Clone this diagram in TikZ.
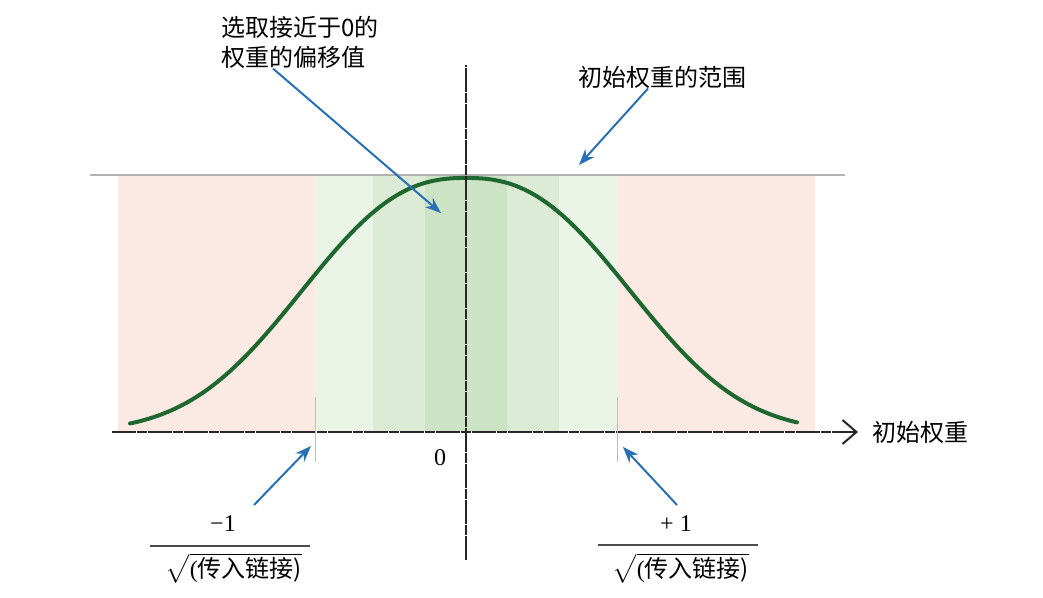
\documentclass[tikz,border=0pt]{standalone}
\usepackage{amsmath}
\usepackage{fontspec}
\setmainfont{Liberation Serif}
\newfontfamily\cjk{Noto Sans CJK SC}
\usetikzlibrary{calc,positioning,arrows.meta}
\definecolor{rangepink}{RGB}{250,234,227}
\definecolor{bandlight}{RGB}{234,244,231}
\definecolor{bandmid}{RGB}{219,235,213}
\definecolor{banddark}{RGB}{205,227,198}
\definecolor{curvegreen}{RGB}{30,104,48}
\definecolor{pointblue}{RGB}{40,112,182}
\tikzset{
  pointer/.style={draw=pointblue, line width=1pt, -{Stealth[length=8pt,width=6pt]}},
  roughaxis/.style={draw=black!85, line width=0.8pt, dash pattern=on 12pt off 0.5pt on 5pt off 0.5pt},
  tickmark/.style={draw=black!25, line width=0.5pt},
  fracbar/.style={draw=black!70, line width=0.8pt},
  notetext/.style={font=\cjk\fontsize{12}{15}\selectfont, align=left, inner sep=0pt},
  numtext/.style={font=\fontsize{12}{15}\selectfont, inner sep=0pt}
}

\begin{document}
\begin{tikzpicture}[x=0.5pt,y=0.5pt]
      \useasboundingbox (-466,-166) rectangle (577,432);

      % Draw range of initial weights and the bands near 0.
      \fill[rangepink] (-348,0) rectangle (349,257);
      \fill[bandlight] (-151,0) rectangle (151,257);
      \fill[bandmid] (-93,0) rectangle (93,257);
      \fill[banddark] (-41,0) rectangle (41,257);
      \draw[black!30, line width=0.8pt] (-376,257) -- (379,257);

      % Draw distribution curve.
      \draw[curvegreen, line width=2pt, line cap=round]
      plot[domain=-336:331, samples=121, smooth] (\x, {254*exp(-((abs(\x)+0.01)/204)^2.45)});

      % Draw axes.
      \draw[roughaxis, -{Straight Barb[length=7pt,width=12pt,line width=1pt]}] (-354,0) -- (392,0)
      node[notetext, right=7pt] (weightaxis) {初始权重};
      \draw[roughaxis] (0,-128) -- (0,367);
      \draw[tickmark] (-151,35) -- (-151,-30);
      \draw[tickmark] (151,35) -- (151,-30);
      \node[numtext] (origin) at (-26,-26) {0};

      % Label offsets and range.
      \node[notetext] (offsetnote) at (-166,390) {选取接近于0的\\权重的偏移值};
      \node[notetext] (rangenote) at (196,355) {初始权重的范围};
      \coordinate (offsettip) at (-25,219);
      \coordinate (rangetip) at (113,267);
      \draw[pointer] ($(offsetnote.south)+(-27,0)$) -- (offsettip);
      \draw[pointer] ($(rangenote.south)+(-14,0)$) -- (rangetip);

      % Label bounds of the bands.
      \node[numtext] (lownum) at (-243,-92) {−1};
      \draw[fracbar] (-316,-114) -- (-156,-114);
      \node[numtext] (lowden) at (-232,-136) {$\sqrt{\text{(\cjk 传入链接)}}$};
      \node[numtext] (highnum) at (210,-92) {+ 1};
      \draw[fracbar] (132,-113) -- (292,-113);
      \node[numtext] (highden) at (215,-136) {$\sqrt{\text{(\cjk 传入链接)}}$};
      \coordinate (lowtip) at (-155,-14);
      \coordinate (hightip) at (157,-15);
      \draw[pointer] ($(lownum)+(31,19)$) -- (lowtip);
      \draw[pointer] ($(highnum)+(1,19)$) -- (hightip);

\end{tikzpicture}
\end{document}
